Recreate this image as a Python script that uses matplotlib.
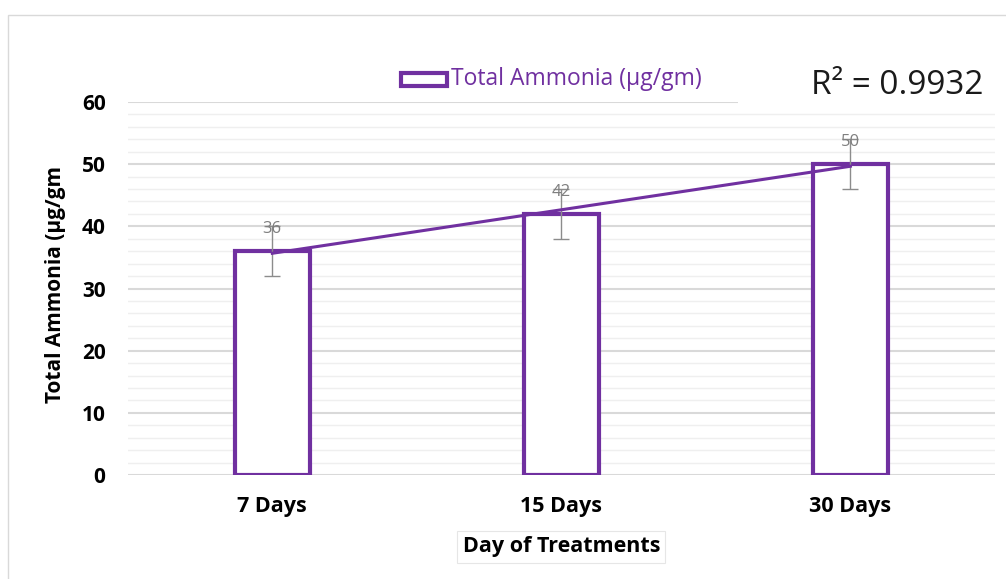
"""Total ammonia over treatment days, bar chart with linear trend."""

import matplotlib.pyplot as plt
import numpy as np
from matplotlib.patches import Rectangle

days = ['7 Days', '15 Days', '30 Days']
ammonia = [36, 42, 50]
errors = [4, 4, 4]

purple = '#7030A0'
plt.rcParams['font.family'] = ['Open Sans', 'DejaVu Sans']

fig = plt.figure(figsize=(10.06, 5.79), dpi=100)
ax = fig.add_axes([0.127, 0.1796, 0.862, 0.6442])

# chart border (cropped on the right and bottom)
fig.patches.append(Rectangle((8 / 1006, -0.1), 1.2, 1 - 15 / 579 + 0.1,
                             transform=fig.transFigure, fill=False,
                             edgecolor='#d9d9d9', linewidth=1))

x = np.arange(len(days))
ax.bar(x, ammonia, width=0.26, facecolor='white', edgecolor=purple,
       linewidth=3, zorder=3)
ax.errorbar(x, ammonia, yerr=errors, fmt='none', ecolor='#8c8c8c',
            elinewidth=1, capsize=6, capthick=1, zorder=4)

# linear trendline and R²
slope, icpt = np.polyfit(x, ammonia, 1)
fit = slope * x + icpt
r2 = 1 - np.sum((np.array(ammonia) - fit) ** 2) / np.sum((np.array(ammonia) - np.mean(ammonia)) ** 2)
ax.plot([x[0], x[-1]], [fit[0], fit[-1]], color=purple, linewidth=2.2, zorder=5)

for xi, v in zip(x, ammonia):
    ax.annotate(str(v), (xi, v), xytext=(0, 16), textcoords='offset points',
                ha='center', va='center', fontsize=12, color='#7f7f7f', zorder=6)

ax.set_xlim(-0.5, 2.5)
ax.set_ylim(0, 60)
ax.set_yticks(np.arange(0, 61, 10))
ax.set_yticks(np.arange(0, 61, 2), minor=True)
ax.set_xticks(x)
ax.set_xticklabels(days, fontsize=15.5, fontweight='bold')
ax.tick_params(axis='y', labelsize=15, length=0, pad=16, which='both')
for lab in ax.get_yticklabels():
    lab.set_fontweight('bold')
ax.tick_params(axis='x', length=0, pad=15)
ax.grid(axis='y', which='major', color='#d9d9d9', linewidth=1.5, zorder=0)
ax.grid(axis='y', which='minor', color='#efefef', linewidth=1, zorder=0)
for s in ax.spines.values():
    s.set_visible(False)
ax.set_axisbelow(True)

ax.set_ylabel('Total Ammonia (µg/gm', fontsize=15, fontweight='bold')
ax.yaxis.set_label_coords(-0.071, 0.51)
ax.set_xlabel('Day of Treatments', fontsize=15.5, fontweight='bold', labelpad=14,
              bbox=dict(facecolor='white', edgecolor='#e6e6e6', linewidth=0.8,
                        boxstyle='square,pad=0.25'))

# legend
fig.patches.append(Rectangle((401 / 1006, 1 - 86 / 579), 46 / 1006, 13 / 579,
                             transform=fig.transFigure, facecolor='white',
                             edgecolor=purple, linewidth=3))
fig.text(451 / 1006, 1 - 79 / 579, 'Total Ammonia (µg/gm)', color=purple,
         fontsize=16.5, va='center', ha='left')

# R² text box hides the top gridline on the right
fig.patches.append(Rectangle((738 / 1006, 1 - 108 / 579), 0.3, 45 / 579,
                             transform=fig.transFigure, facecolor='white',
                             edgecolor='none', zorder=5))
fig.text(811 / 1006, 1 - 86 / 579, f'R² = {r2:.4f}', fontsize=24, va='center',
         ha='left', color='#1a1a1a', zorder=6)

fig.savefig('out.png', dpi=100)
